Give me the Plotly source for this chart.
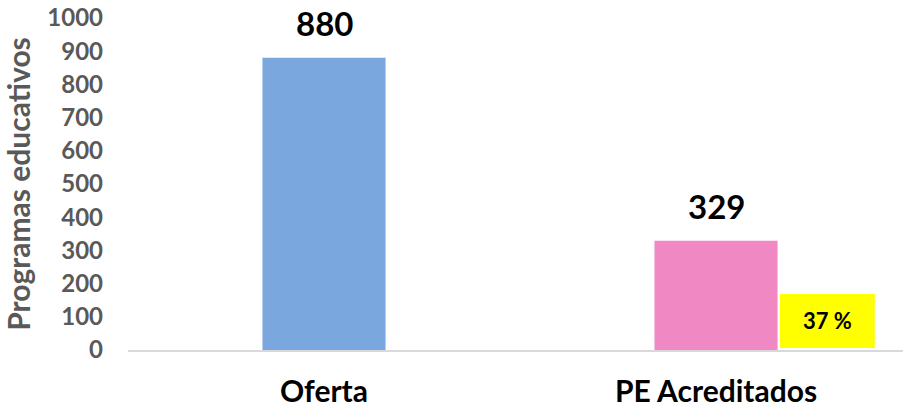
import plotly.graph_objects as go

categories = ["Oferta", "PE Acreditados"]
values = [880, 329]
bar_colors = ["#7BA7DF", "#F088C4"]
pct_category = ["PE Acreditados"]
pct_value = [163]
pct_base = [6]
pct_label = ["37 %"]
y_ticks = list(range(0, 1001, 100))

FONT = "Lato"

fig = go.Figure()
fig.add_trace(go.Bar(
    x=categories, y=values, marker=dict(color=bar_colors, line=dict(width=0)),
    width=0.314, hoverinfo="skip", showlegend=False,
))
fig.add_trace(go.Bar(
    x=pct_category, y=pct_value, base=pct_base, offset=0.163, width=0.242,
    marker=dict(color="#FFFF00", line=dict(width=0)),
    text=pct_label, textposition="inside", insidetextanchor="middle",
    textfont=dict(family=FONT, size=22, color="#000000", weight="bold"),
    textangle=0, hoverinfo="skip", showlegend=False,
))
for c, v in zip(categories, values):
    fig.add_annotation(
        x=c, y=v, text=f"<b>{v}</b>", showarrow=False, yanchor="bottom", yshift=13,
        font=dict(family=FONT, size=33, color="#000000"),
    )

fig.update_layout(
    width=903, height=407, barmode="overlay",
    margin=dict(l=128, r=0, t=18, b=57),
    paper_bgcolor="white", plot_bgcolor="white",
    xaxis=dict(
        range=[-0.5, 1.477], showline=True, linecolor="#D9D9D9", linewidth=1.5,
        showgrid=False, ticks="", ticklabelstandoff=14, automargin=False,
        tickfont=dict(family=FONT, size=30, color="#000000", weight="bold"),
    ),
    yaxis=dict(
        range=[0, 1000], tickvals=y_ticks, showgrid=False, zeroline=False,
        showline=False, ticks="", ticklabelstandoff=24, automargin=False,
        tickfont=dict(family=FONT, size=24, color="#595959", weight="bold"),
        title=dict(text="Programas educativos", standoff=16,
                   font=dict(family=FONT, size=30, color="#595959", weight="bold")),
    ),
)
fig.write_html(
    "out.html",
    config={"displayModeBar": False},
    post_script="document.body.style.margin='0';document.body.style.overflow='hidden';",
)
